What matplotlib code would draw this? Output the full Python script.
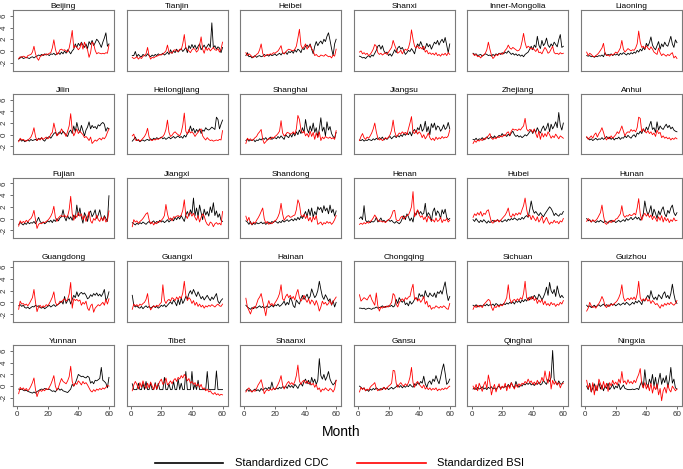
import numpy as np
import matplotlib
matplotlib.use("Agg")
import matplotlib.pyplot as plt
from matplotlib.lines import Line2D

plt.rcParams['font.family'] = ['Liberation Sans', 'DejaVu Sans']

months = np.arange(1, 61)

# standardized monthly series (CDC = black, BSI = red)
beijing_cdc = [-1.4,-1.2,-1.0,-1.3,-1.2,-1.1,-1.2,-1.3,-1.1,-1.0, -1.2,-1.0,-0.9,-0.7,-0.8,-0.6,-0.8,-0.5,-0.7,-0.6,
               -0.8,-0.5,-0.6,-0.4,-0.7,-0.5,-0.3,-0.6,-0.2,-0.5, 0.0,-0.4,0.2,-0.1,-0.5,0.0,0.3,1.2,0.6,1.3,
               0.9,1.5,1.0,0.6,1.2,0.4,1.6,1.1,1.8,0.9, 1.4,2.0,1.7,1.2,0.6,1.5,2.2,3.1,0.8,1.2]
beijing_bsi = [-1.3,-1.0,-1.1,-0.9,-1.0,-1.2,-0.8,-0.7,-0.6,-0.2, 0.8,-0.5,-1.2,-1.6,-1.0,-0.8,-0.6,-0.7,-0.5,-0.6,
               -0.4,-0.3,0.5,1.9,0.3,-0.6,-0.4,0.2,0.3,0.1, 0.2,0.0,-0.2,0.5,1.8,3.5,0.5,0.9,0.6,0.2,
               0.5,1.4,0.3,1.5,0.7,0.2,-1.1,-0.3,1.5,1.2, 0.1,-0.5,-0.3,-0.4,-0.5,-0.4,-0.5,-0.3,-0.4,1.0]

tianjin_cdc = [-0.8,-0.8,-0.1,-1.0,-0.6,-0.9,-1.0,-0.6,-0.8,-0.9, -0.5,-0.8,-1.0,-0.7,-0.9,-0.6,-0.8,-0.5,-0.7,-0.6,
               -0.4,-0.7,-0.5,-0.2,-0.6,0.2,-0.4,0.0,-0.3,0.3, -0.2,0.1,0.4,-0.1,0.2,0.6,-0.3,0.9,0.4,1.1,
               0.5,1.0,0.3,0.8,1.2,0.2,0.6,1.0,0.4,0.8, 1.2,0.6,4.8,0.5,0.9,0.3,0.7,0.5,-0.3,0.6]
tianjin_bsi = [-1.1,-1.3,-1.2,-1.0,-1.4,-1.1,-1.3,-0.9,-0.8,-0.5, 0.6,-0.8,-1.4,-1.1,-1.2,-1.0,-0.9,-0.8,-0.6,-0.7,
               -0.5,-0.3,0.0,1.0,-0.2,-0.3,-0.4,0.1,0.2,0.0, -0.1,0.3,0.2,1.2,2.8,0.5,0.2,0.0,-0.3,0.2,
               0.4,0.3,-0.2,0.1,1.0,2.4,0.3,-0.4,0.6,0.1, 0.5,0.0,0.3,0.6,0.2,0.1,0.4,-0.2,0.3,1.5]

heibei_cdc = [-0.8,-0.3,-1.0,-0.9,-1.2,-1.0,-0.8,-1.1,-0.9,-0.8, -1.0,-0.9,-0.6,-0.8,-0.7,-0.9,-0.6,-0.8,-0.7,-0.5,
              -0.8,-0.6,-0.4,-0.7,-0.3,-0.5,-0.2,-0.6,-0.1,-0.3, 0.0,-0.4,0.2,-0.2,0.3,0.1,-0.3,0.5,0.2,0.8,
              1.0,0.6,1.2,0.3,-0.5,0.8,1.6,0.9,1.4,1.7, 1.2,2.0,1.6,2.5,3.1,1.8,0.4,-0.8,1.2,2.0]
heibei_bsi = [-0.3,-0.8,-0.5,-0.7,-1.0,-1.1,-0.9,-0.6,-0.4,0.2, 1.2,-0.4,-1.0,-0.8,-0.6,-0.7,-0.5,-0.6,-0.3,-0.4,
              -0.2,0.0,0.4,0.9,-0.3,-0.5,-0.2,0.1,0.3,0.2, 0.1,0.0,0.3,0.8,2.2,3.7,1.0,0.4,0.7,1.2,
              0.3,0.8,1.0,0.4,0.0,-0.8,-0.6,-0.9,-1.0,-0.7, -0.8,-0.9,-0.6,-0.8,-1.0,-0.9,-1.2,-0.7,-0.9,0.3]

shanxi_cdc = [-0.9,-1.0,-1.2,-1.1,-1.3,-1.0,-0.8,-1.1,-0.7,-0.9, -0.4,0.1,0.8,1.0,0.3,0.9,0.0,-0.4,-0.2,-0.8,
              -0.5,-0.9,-0.4,0.2,-0.3,0.5,0.8,0.3,0.6,0.0, -0.6,-0.3,0.1,-0.1,0.4,0.0,-0.5,0.6,1.2,0.8,
              1.6,0.9,0.2,0.5,1.3,0.7,1.1,0.3,0.9,1.5, 1.2,1.8,1.0,1.6,2.0,1.4,2.3,1.0,-0.3,1.2]
shanxi_bsi = [-0.2,0.0,-0.5,-0.3,-0.6,-0.4,-0.8,-0.6,-0.2,0.3, 1.1,0.8,-0.3,-0.6,-0.4,-0.7,-0.5,-0.3,-0.6,-0.2,
              0.2,0.6,1.8,1.0,0.3,-0.4,-0.2,0.1,-0.5,0.0, 0.3,0.1,0.5,1.5,3.6,2.0,0.8,0.5,0.9,0.4,
              0.6,0.3,0.8,-0.2,0.1,-0.5,-0.3,-0.6,-0.4,-0.7, -0.3,-0.8,-0.6,-0.9,-0.5,-0.7,-0.4,-0.8,-0.3,-0.6]

inner_mongolia_cdc = [-0.4,-0.6,-0.5,-0.8,-0.7,-0.6,-0.9,-0.7,-0.5,-0.6, -0.8,-0.7,-0.9,-0.6,-0.8,-0.5,-0.7,-0.4,-0.6,-0.3,
                      -0.5,-0.2,-0.4,0.0,-0.3,-0.6,-0.4,-0.7,-0.5,-0.8, -0.6,-0.9,-0.7,-1.0,-0.6,-0.4,-0.2,0.3,0.8,0.2,
                      1.0,0.6,2.5,1.0,0.4,1.8,0.9,1.3,2.2,1.0, 0.6,1.2,0.8,1.5,1.1,0.7,1.9,2.8,0.6,0.8]
inner_mongolia_bsi = [-0.5,-0.8,-0.6,-1.0,-0.9,-1.2,-0.8,-0.7,-0.4,0.2, 1.5,0.3,-0.7,-1.3,-1.0,-0.6,-0.8,-0.5,-0.4,-0.6,
                      -0.3,0.1,0.4,1.0,0.5,0.3,0.6,0.4,0.2,0.0, 0.1,0.5,1.6,3.0,1.4,0.5,0.8,0.6,0.3,0.5,
                      0.2,-0.1,0.4,-0.3,-0.2,-0.5,0.1,0.6,0.2,-0.4, -0.2,0.3,0.8,-0.3,-0.5,-0.4,-0.6,-0.3,-0.5,-0.4]

liaoning_cdc = [-0.8,-0.9,-0.8,-1.0,-0.9,-1.1,-0.9,-1.0,-0.8,-0.9, -0.7,-1.0,-0.3,-0.8,-0.6,-0.7,-0.5,-0.8,-0.6,-0.7,
                -0.5,-0.8,-0.4,-0.6,-0.3,-0.5,-0.7,-0.4,-0.6,-0.3, -0.5,-0.2,-0.4,0.1,-0.2,0.3,0.0,0.6,0.2,1.3,
                0.8,1.4,2.4,1.0,0.5,0.2,0.9,1.6,0.3,1.2, 0.7,1.5,1.0,0.8,1.6,2.5,1.2,0.6,1.9,1.4]
liaoning_bsi = [-0.2,-0.8,-0.4,-0.6,-0.9,-1.0,-0.8,-0.6,-0.3,0.1, 0.5,1.3,-0.4,-0.8,-0.7,-0.9,-0.6,-0.7,-0.5,-0.2,
                -0.4,0.0,0.5,1.8,0.3,-0.2,0.1,0.4,0.2,0.0, 0.2,0.1,0.5,1.2,3.4,1.5,0.6,0.8,0.4,0.9,
                0.5,0.2,0.7,0.3,-0.2,-0.4,-0.6,0.5,-0.3,-0.8, -0.5,-0.7,-0.9,-0.6,-0.8,-0.5,-0.3,-1.2,-0.9,-1.3]

jilin_cdc = [-1.0,-0.8,-1.1,-0.9,-1.2,-1.0,-0.9,-1.1,-0.8,-1.0, -0.9,-0.8,-1.0,-0.6,-0.8,-0.5,-0.9,-1.1,-0.7,-0.5,
             -0.3,-0.6,-0.2,0.2,0.4,-0.1,0.3,0.5,0.1,0.6, 0.3,0.0,-0.3,0.5,0.8,0.2,1.5,0.5,2.1,1.0,
             0.4,1.6,0.7,-0.2,0.8,1.3,2.2,1.0,1.6,1.2, 1.4,1.0,1.7,1.5,1.9,2.1,1.8,0.6,1.2,1.0]
jilin_bsi = [-1.2,-0.6,-0.9,-0.8,-1.0,-1.1,-0.9,-0.7,-0.4,0.2, 1.2,-0.3,-1.0,-0.7,-0.9,-0.5,-0.8,-0.6,-0.4,-0.7,
             -0.5,0.1,0.4,2.0,0.8,-0.2,0.1,0.3,1.0,0.5, 0.2,-0.3,0.6,1.5,3.6,0.8,-0.2,0.4,1.0,0.2,
             0.6,0.3,0.0,-0.5,-0.3,-0.6,-1.0,-0.4,-1.5,-1.2, -0.9,-1.1,-0.8,-0.6,-0.9,-0.5,-0.7,-0.3,0.4,1.0]

heilongjiang_cdc = [-1.1,-0.8,-0.4,-1.0,-0.9,-1.2,-1.0,-0.9,-1.1,-0.9, -0.8,-1.0,-0.7,-0.9,-0.6,-0.8,-0.5,-0.7,-0.6,-0.4,
                    -0.7,-0.5,-0.8,-0.6,-0.4,-0.7,-0.5,-0.3,-0.6,-0.4, -0.2,-0.5,-0.3,-0.6,-0.1,-0.4,0.2,0.5,1.5,0.6,
                    1.1,0.3,0.9,0.5,1.0,0.2,0.8,0.6,1.2,0.9, 0.8,1.0,1.3,1.1,0.9,3.0,2.6,1.0,1.8,2.5]
heilongjiang_bsi = [-0.2,0.1,-0.9,-1.0,-0.8,-1.1,-0.9,-0.6,-0.3,0.2, 1.1,-0.4,-0.9,-1.0,-0.8,-0.9,-0.7,-0.8,-0.6,-0.5,
                    -0.3,0.1,0.9,2.5,0.4,-0.3,-0.1,0.3,0.5,0.2, 0.0,-0.2,0.4,1.6,3.7,0.6,0.1,0.9,0.3,0.5,
                    0.2,-0.3,0.1,0.4,0.8,1.0,-0.2,-0.6,-0.9,-0.5, -0.8,-1.0,-0.9,-1.1,-1.0,-0.9,-1.0,-0.8,-0.9,0.7]

shanghai_cdc = [-1.0,-0.8,-1.1,-0.9,-1.0,-0.8,-1.2,-0.9,-1.0,-0.7, -0.9,-0.6,-0.8,-0.5,-0.9,-0.7,-0.4,-0.8,-0.6,-0.5,
                -0.7,-0.3,-0.6,-0.2,-0.5,-0.8,0.0,-0.3,-0.5,0.1, -0.4,0.3,-0.2,0.5,0.0,0.8,0.2,1.2,0.4,2.6,
                1.0,0.3,1.5,0.6,2.0,0.4,1.2,-0.4,1.0,2.9, 0.6,1.3,-0.2,2.2,0.8,1.4,0.2,-0.3,-0.6,0.4]
shanghai_bsi = [-1.5,-0.6,-0.9,-0.7,-1.0,-0.8,-0.5,-0.3,0.2,0.5, 0.9,-0.8,-1.5,-1.2,-0.9,-0.6,-0.8,-0.4,-0.6,-0.3,
                -0.1,0.2,0.6,2.4,0.3,-0.2,0.0,0.4,0.3,0.1, 0.2,0.5,0.1,1.0,3.3,2.6,0.8,0.3,0.6,-0.2,
                0.2,-0.4,0.6,-0.3,0.4,-0.8,0.3,-0.5,0.5,-1.0, -0.4,-0.7,-0.3,-0.5,-0.6,-0.4,-0.7,-0.5,-0.8,0.7]

jiangsu_cdc = [-0.9,-1.0,-0.8,-1.1,-0.9,-1.0,-0.8,-0.9,-1.0,-0.7, -0.9,-0.6,-0.8,-0.5,-0.7,-0.4,-0.9,-0.6,-0.8,-0.5,
               -0.3,-0.7,-0.4,-0.2,-0.5,-0.1,-0.4,0.0,-0.3,0.2, -0.1,0.3,0.0,0.5,-0.2,0.6,0.9,0.3,1.2,0.8,
               1.8,0.6,1.0,2.3,0.5,1.4,0.0,1.9,1.2,2.0, 0.8,1.5,1.3,0.6,1.0,1.7,0.9,1.2,2.1,1.0]
jiangsu_bsi = [-1.0,-0.3,0.2,-0.5,-0.8,-0.4,-0.6,-0.2,0.3,1.0, 2.0,0.5,-0.6,-0.9,-0.7,-1.0,-0.8,-0.5,-0.7,-0.4,
               0.0,0.8,2.5,0.6,-0.3,-0.1,0.3,0.1,0.5,0.2, 0.4,0.0,1.0,2.0,3.1,0.4,0.2,0.8,0.1,0.5,
               0.2,-0.5,0.0,-0.7,-0.3,0.3,-0.5,-0.9,-0.6,-1.0, -0.4,-0.8,-0.5,-0.7,-0.3,-0.6,-0.4,-0.5,-0.2,0.8]

zhejiang_cdc = [-0.8,-0.9,-0.6,-1.0,-0.7,-0.8,-0.5,-0.9,-0.6,-0.4, -0.7,-0.5,-0.3,-0.6,-0.2,-0.5,-0.4,-0.1,-0.3,0.2,
                -0.2,0.0,-0.3,0.1,-0.2,0.3,0.6,0.0,-0.3,-0.1, -0.4,-0.2,-0.5,-0.3,0.0,-0.2,0.1,0.5,0.8,0.2,
                0.9,0.4,1.2,0.6,0.3,1.0,1.5,0.7,1.2,2.0, 0.5,1.8,1.0,1.5,2.2,1.2,3.8,1.6,0.8,2.0]
zhejiang_bsi = [-1.5,-1.0,-1.3,-0.9,-1.1,-0.8,-1.0,-0.6,-0.8,-0.4, -0.2,0.2,-0.6,-0.8,-0.5,-0.7,-0.3,-0.5,-0.2,-0.4,
                0.0,-0.2,0.3,0.5,-0.1,0.6,1.0,0.8,0.9,0.7, 1.0,0.8,1.2,1.5,2.8,1.0,0.6,0.9,0.8,0.4,
                1.0,0.2,-0.5,0.6,-0.8,0.3,-0.4,0.2,-0.3,0.5, 0.0,-0.6,-0.2,-0.5,0.1,-0.3,-0.7,-0.2,-0.4,-0.6]

anhui_cdc = [-0.5,-0.6,-0.9,-0.7,-1.0,-0.8,-0.6,-0.9,-0.7,-0.8, -0.5,-0.8,-0.6,-0.3,-0.7,-0.4,-0.8,-0.5,-0.9,-0.6,
             -0.7,-0.4,-0.8,-0.5,-0.6,-0.2,-0.5,-0.1,-0.4,-0.6, -0.2,0.0,-0.4,0.3,0.1,0.6,0.2,1.0,0.5,1.3,
             0.8,1.6,2.3,0.9,1.2,0.4,2.2,0.8,1.5,1.1, 0.9,1.4,1.8,1.2,1.6,1.0,1.3,0.8,0.6,0.5]
anhui_bsi = [-0.3,-0.8,-0.5,-0.2,-0.6,0.0,0.3,-0.4,0.2,0.6, 1.2,0.4,-0.5,-0.9,-0.4,-0.7,-0.2,-0.6,-0.3,0.0,
             0.5,0.2,0.8,1.5,0.6,-0.2,0.3,0.5,0.4,0.9, 0.6,0.8,0.5,1.2,3.0,2.8,0.5,1.0,0.6,0.3,
             0.7,0.2,0.5,0.0,0.3,-0.3,0.8,0.2,0.4,-0.5, -0.2,-0.6,-0.4,-0.7,-0.5,-0.9,-0.6,-0.8,-0.5,-0.7]

fujian_cdc = [-1.0,-0.7,-0.9,-1.1,-0.8,-1.0,-0.6,-0.9,-0.7,-0.8, -0.5,-0.9,-0.4,0.2,-0.5,-0.8,-0.6,-0.9,-0.7,-0.4,
              -0.6,-0.3,-0.7,-0.2,-0.5,0.0,-0.4,0.1,0.3,1.5, 0.2,-0.4,0.5,-0.1,0.3,-0.3,0.6,0.0,2.3,0.5,
              1.8,0.2,-0.8,1.0,0.4,-0.5,0.9,1.3,0.3,0.8, 1.5,0.0,0.6,1.5,0.2,-0.3,0.5,0.0,-0.5,3.9]
fujian_bsi = [-1.3,-0.4,-0.8,-0.5,-0.7,-0.3,-0.6,-0.2,0.0,0.5, 1.4,-0.2,-1.7,-1.0,-0.8,-0.9,-0.6,-0.7,-0.5,-0.3,
              0.0,0.4,1.0,2.1,0.2,-0.5,0.1,0.4,0.5,0.3, 0.6,0.2,0.4,1.5,3.8,0.8,-0.3,0.6,0.2,1.0,
              0.4,0.8,-0.2,0.5,-0.5,0.3,1.2,-0.4,-0.8,0.0, -0.3,0.6,-0.2,-0.5,0.2,-0.4,0.3,-0.6,-0.3,1.3]

jiangxi_cdc = [-0.7,-0.9,-1.1,-0.8,-1.0,-0.7,-0.9,-0.6,-0.8,-1.0, -0.7,-0.5,-0.9,-0.6,-0.4,-0.8,-0.5,-0.7,-0.3,-0.6,
               -0.4,-0.7,-0.5,-0.2,-0.6,-0.3,0.0,-0.4,0.2,-0.2, 0.3,-0.1,0.5,0.0,-0.5,0.6,1.2,0.4,1.5,0.8,
               3.5,0.5,1.8,0.3,2.3,1.0,-0.2,1.6,0.6,1.2, 0.4,2.0,1.0,2.7,0.5,1.3,0.2,0.8,-0.3,-0.5]
jiangxi_bsi = [-1.4,-0.2,-0.6,-0.4,-0.8,-0.5,-0.3,0.0,0.4,0.8, 1.0,-0.2,-0.9,-0.6,-1.1,-0.7,-0.9,-0.5,-0.6,-0.3,
               0.0,0.5,2.4,0.8,-0.2,0.1,-0.4,0.3,0.2,0.4, 0.5,0.3,0.6,1.4,3.2,0.5,0.0,0.8,1.0,0.4,
               0.9,0.2,-0.3,0.5,-0.6,0.2,0.8,0.4,-0.5,-1.0, -1.2,-0.6,-0.8,-1.4,-0.9,-0.7,-1.0,-0.8,-1.1,1.2]

shandong_cdc = [-0.4,-0.6,-1.0,-0.5,-1.1,-0.8,-1.0,-0.7,-0.9,-0.8, -0.6,-0.9,-0.7,-1.0,-0.8,-0.6,-0.9,-0.5,-0.7,-0.4,
                -0.6,-0.8,-0.5,-0.7,-0.3,-0.6,-0.4,-0.2,-0.5,-0.3, -0.1,-0.4,0.0,-0.3,0.2,-0.2,0.4,0.0,0.6,1.2,
                0.3,1.6,0.5,1.8,0.2,1.2,0.6,2.0,1.5,1.9, 1.0,2.2,1.3,1.8,0.8,2.3,1.0,1.6,0.4,1.3]
shandong_bsi = [0.4,-0.4,0.2,-0.8,-1.0,-0.6,-0.8,-0.3,0.1,0.6, 1.2,1.8,0.0,-0.8,-0.5,-1.0,-0.7,-0.9,-0.6,-0.4,
                -0.2,0.3,1.0,2.6,0.8,-0.3,0.1,0.4,0.5,0.2, 0.3,0.5,0.6,1.5,3.2,2.5,0.6,0.3,0.7,0.0,
                0.5,-0.4,0.2,-0.6,0.3,-0.2,0.5,-1.0,-0.8,-0.6, -1.1,-0.7,-0.9,-0.5,-0.8,-0.6,-1.0,-0.7,-0.2,0.5]

henan_cdc = [0.0,0.3,-0.2,2.2,-0.3,-0.6,-0.4,-0.7,-0.5,-0.6, -0.4,0.2,-0.6,-0.3,0.1,-0.5,-0.3,-0.6,-0.4,-0.2,
             -0.5,-0.3,-0.6,-0.8,-0.5,-0.7,-0.9,-0.6,0.0,0.5, -0.2,0.8,0.3,-0.4,0.1,-0.6,1.0,0.6,1.4,0.8,
             1.2,0.7,0.9,2.6,0.3,1.0,0.6,-0.5,1.2,1.8, 0.5,1.3,0.9,0.0,1.5,0.8,1.6,0.2,-0.2,0.0]
henan_bsi = [-1.0,-0.8,-1.0,-0.7,-0.9,-0.6,-0.8,-0.5,-0.3,0.1, 0.6,0.2,-0.3,-0.5,-0.4,-0.6,-0.5,-0.7,-0.4,-0.2,
             0.0,0.5,1.3,1.4,-0.2,-0.4,-0.3,0.2,0.4,-0.1, 0.3,0.5,0.6,1.2,2.0,4.6,0.3,0.9,1.5,0.7,
             0.2,0.5,-0.2,0.3,-0.6,0.4,0.0,-0.4,-0.2,-0.6, 0.1,-0.5,-0.3,0.2,-0.7,-0.2,-0.4,0.0,-0.6,-0.3]

hubei_cdc = [-0.2,-0.5,0.0,-0.4,-0.7,-0.3,-0.6,-0.2,-0.5,-0.8, -0.4,-0.7,-0.5,-0.3,-0.6,-0.4,-0.2,-0.5,-0.3,-0.6,
             -0.4,-0.2,-0.5,-0.1,-0.3,0.0,-0.2,0.1,-0.1,-0.3, 0.0,-0.2,0.2,-0.1,0.3,0.5,0.2,1.5,3.0,1.6,
             0.9,1.2,0.8,0.5,1.0,0.6,0.3,0.8,1.2,1.6, 2.0,1.7,1.2,0.5,0.9,0.6,0.4,0.8,0.7,1.2]
hubei_bsi = [0.2,0.8,0.5,1.0,0.6,1.2,0.4,0.9,0.7,1.3, 1.5,0.4,-0.6,-0.8,-0.3,-0.5,-0.2,-0.6,-0.3,0.0,
             0.3,0.6,1.1,1.8,0.5,0.2,0.8,0.4,0.9,0.6, 1.0,0.7,1.5,2.2,3.5,1.6,0.3,0.6,-0.2,0.5,
             0.0,-0.4,0.3,-0.6,-0.2,0.4,-0.8,-0.3,0.2,-0.5, -1.0,-0.6,-0.8,-0.3,-0.7,-0.5,-0.9,-0.4,-0.6,0.0]

hunan_cdc = [0.0,-0.4,-0.2,-0.6,-0.3,-0.5,-0.7,-0.4,-0.6,-0.3, -0.5,-0.7,-0.4,-0.6,-0.8,-0.5,-0.3,-0.6,-0.4,-0.7,
             -0.5,-0.3,-0.6,-0.4,-0.2,-0.5,0.0,-0.3,-0.1,0.2, -0.2,0.0,0.3,-0.1,0.2,-0.3,0.1,0.8,3.0,1.5,
             0.6,1.2,2.2,0.4,1.6,0.9,0.0,1.3,0.6,1.5, 2.0,0.8,0.3,1.4,0.9,1.8,2.3,1.0,0.5,1.0]
hunan_bsi = [-0.5,0.0,-0.3,-0.6,-0.2,-0.5,-0.3,0.0,0.5,1.0, 2.3,0.5,-0.8,-1.0,-0.6,-0.4,-0.7,-0.3,-0.5,-0.1,
             0.0,0.4,0.8,2.2,0.6,0.2,0.5,0.4,0.7,0.5, 0.6,0.9,0.6,1.8,3.4,0.8,-0.3,0.5,0.9,0.4,
             0.8,0.2,0.6,-0.2,0.4,0.0,-0.5,0.3,-0.3,0.5, -0.6,0.2,-0.4,0.0,-0.7,-0.2,-0.5,0.1,-0.4,-0.3]

guangdong_cdc = [-0.6,-0.4,-0.7,-0.5,-0.9,-1.0,-0.8,-1.1,-0.9,-0.7, -0.8,-0.5,-0.7,-0.6,-0.9,-1.0,-0.8,-1.1,-0.9,-0.7,
                 -0.5,-0.8,-0.6,-0.4,-0.7,-0.5,-0.3,-0.1,0.2,-0.3, 1.0,-0.2,0.3,0.6,-0.3,0.5,1.2,0.8,1.8,1.0,
                 1.5,1.7,1.4,1.6,1.2,0.6,0.8,1.3,1.0,1.5, 1.2,1.6,1.1,1.4,1.0,1.5,2.2,0.3,0.8,1.8]
guangdong_bsi = [-1.2,0.2,-0.3,-0.2,-0.5,-0.3,-0.6,-0.2,0.3,0.8, 2.2,0.0,-1.6,-0.8,-0.5,-0.9,-0.6,-0.8,-0.4,-0.6,
                 -0.2,0.3,0.9,1.8,0.0,-0.5,-0.3,0.2,0.0,0.4, 0.6,0.2,0.5,1.4,3.4,-1.0,0.6,0.3,0.5,0.2,
                 0.4,-0.5,0.0,-0.3,0.2,-1.0,-1.4,-0.6,-0.3,-1.7, -1.0,-0.7,-0.4,-0.6,-0.3,0.0,-0.5,0.5,-0.3,0.6]

guangxi_cdc = [1.2,-0.5,-0.8,-0.6,-0.9,-1.0,-0.7,-1.1,-0.8,-0.6, -0.9,-0.7,-1.0,-0.8,-0.6,-0.9,-0.7,-1.0,-0.8,-0.5,
               -0.7,-0.4,-0.8,-0.5,-0.2,0.1,-0.3,0.4,0.0,-0.6, 0.5,-0.4,0.8,-0.2,0.3,1.0,0.6,1.5,2.0,1.4,
               2.2,1.6,1.0,1.8,1.2,0.6,1.0,0.4,0.8,1.2, 0.7,0.3,0.9,0.5,1.0,1.5,0.2,-0.2,0.3,0.6]
guangxi_bsi = [-1.2,-0.3,-0.6,-0.4,-0.7,-0.3,-0.5,-0.2,0.0,0.5, 1.5,-0.5,-1.3,-0.9,-0.6,-0.8,-0.5,-0.7,-0.3,0.0,
               3.0,0.4,-0.2,0.3,0.5,0.2,0.8,0.6,0.3,0.9, 0.5,1.0,0.7,1.6,3.6,1.2,0.3,0.8,0.5,-0.2,
               0.3,-0.5,0.0,-0.7,-0.3,-0.8,-0.5,-1.0,-0.6,-0.8, -0.5,-0.7,-0.4,-0.6,-0.8,-0.5,-0.3,-0.6,-0.7,-0.3]

hainan_cdc = [-0.5,-0.8,-1.0,-1.2,-0.9,-1.1,-0.7,-1.0,-0.8,-0.6, -0.9,-0.7,-1.0,-0.8,-0.6,-0.9,-0.7,-0.5,-0.8,-0.4,
              -0.6,-0.3,-0.7,-0.5,-0.2,0.2,-0.5,0.0,-0.4,0.8, 0.3,-0.6,-0.9,0.4,0.0,-0.3,0.6,1.2,0.5,0.9,
              1.4,0.6,1.0,2.3,1.5,0.8,1.2,2.0,3.6,2.2, 1.0,0.5,1.3,0.8,0.2,0.6,-0.5,0.3,-0.8,0.0]
hainan_bsi = [0.7,-0.8,-1.4,-2.0,-1.2,-0.8,-1.0,-0.3,0.5,0.9, 1.5,0.2,-1.0,-2.3,-0.6,0.3,-0.5,-0.2,-0.6,-0.1,
              0.3,0.8,1.5,3.0,0.6,0.3,1.0,1.4,0.8,1.2, 0.6,1.0,0.4,1.5,2.2,0.8,0.2,0.6,1.2,0.5,
              0.0,0.6,-0.3,0.4,0.1,-0.5,0.3,-0.4,-1.5,-0.8, 0.2,-0.3,0.0,-0.5,-0.2,0.3,-0.4,0.1,0.5,0.9]

chongqing_cdc = [-1.0,-1.0,-1.1,-1.0,-1.2,-1.1,-1.0,-1.1,-1.2,-1.0, -1.0,-0.8,-1.0,-0.9,-0.8,-0.6,-0.9,-0.7,-0.8,-0.6,
                 -0.7,-0.5,-0.8,-0.6,0.5,-0.2,0.8,0.3,0.0,0.4, -0.4,-0.1,-0.6,0.2,-0.3,0.0,0.5,0.8,0.4,1.5,
                 1.0,1.3,0.7,2.0,1.2,0.9,1.6,1.2,1.0,1.6, 0.8,1.8,1.5,2.0,1.4,2.5,3.5,1.6,0.3,1.0]
chongqing_bsi = [1.3,0.2,0.5,0.8,0.6,0.4,0.9,1.3,0.5,0.0, -0.5,1.6,-0.6,-1.5,-0.8,-1.0,-0.7,-0.9,-0.6,-0.8,
                 -0.4,0.0,1.5,1.2,-0.3,-0.8,0.0,0.3,0.6,0.2, 0.8,0.5,0.9,1.0,2.2,3.1,0.5,0.8,0.2,0.6,
                 0.0,0.4,1.0,-0.3,0.2,-0.8,-0.5,-1.2,-0.9,-1.0, -0.6,-0.8,-1.0,-0.7,-0.9,-0.6,-0.8,-1.1,-1.2,-0.2]

sichuan_cdc = [-0.5,-0.7,-0.4,-0.8,-0.6,-0.5,-0.7,-0.4,-0.6,-0.3, -0.6,-0.4,-0.5,-0.3,-0.6,-0.2,-0.4,-0.6,-0.3,-0.5,
               -0.2,-0.4,-0.1,-0.3,0.0,-0.2,0.1,-0.3,0.2,0.0, 0.3,-0.1,0.4,0.1,0.5,0.2,0.8,0.4,1.0,0.6,
               1.2,0.8,0.5,1.4,1.0,0.4,0.9,1.6,2.6,1.2, 3.4,2.0,1.5,2.2,1.0,2.8,1.6,0.8,1.2,0.8]
sichuan_bsi = [-1.2,-0.6,-0.9,-0.5,-0.8,-0.6,-0.9,-0.4,-0.1,0.2, 0.5,0.3,-0.8,-1.4,-0.7,-0.9,-0.5,-0.8,-0.4,-0.6,
               -0.3,0.2,0.8,3.0,0.6,-0.1,0.3,0.5,0.2,0.6, 0.3,0.8,0.5,1.5,3.6,0.8,0.3,0.9,0.5,1.0,
               0.3,0.7,-0.2,0.4,0.0,0.5,-0.4,0.2,-0.5,-0.2, -0.6,0.0,-0.4,-0.2,-0.7,-0.3,-0.5,0.0,-0.3,0.3]

guizhou_cdc = [-0.5,-0.8,-0.6,-0.9,-0.7,-0.5,-0.8,-0.6,-0.4,-0.7, -0.5,-0.3,-0.6,-0.4,-0.7,-0.5,-0.2,-0.5,-0.3,-0.6,
               -0.4,-0.2,-0.5,-0.3,-0.1,-0.4,0.0,-0.2,-0.5,-0.3, 0.0,-0.3,0.2,-0.1,0.3,0.0,-0.4,0.5,0.2,0.8,
               1.2,0.6,2.0,1.0,0.5,0.9,0.4,1.3,1.0,0.6, 1.4,1.8,0.8,1.2,0.6,1.5,3.1,1.4,0.2,-0.2]
guizhou_bsi = [-1.5,-1.0,0.0,-0.6,-0.9,-0.7,-1.0,-0.5,-0.2,0.3, 1.0,0.4,-0.6,-0.9,-0.4,-0.7,-0.3,-0.5,-0.2,0.0,
               0.3,0.8,1.5,3.0,0.9,0.2,0.5,0.7,0.4,0.8, 0.5,0.9,0.4,1.4,3.6,0.8,0.2,0.6,0.3,0.7,
               0.2,0.5,-0.2,0.3,0.0,-0.4,-0.2,-0.6,-1.0,-0.4, -0.7,-0.2,-0.5,-0.1,-0.4,0.0,-0.3,-0.5,-0.2,0.3]

yunnan_cdc = [-0.5,-0.6,-0.5,-0.7,-0.8,-0.7,-0.9,-1.0,-1.1,-1.2, -1.0,-1.2,-0.9,-0.8,-0.6,-0.5,-0.6,-0.4,-0.5,-0.6,
              -0.5,-0.7,-0.9,-0.8,-1.0,-0.6,-0.4,-0.7,-0.5,-0.8, -0.9,-1.0,-1.1,-0.8,-0.5,0.3,0.0,0.5,1.2,2.0,
              1.8,1.6,1.7,1.5,1.4,1.7,1.5,0.5,0.8,0.4, 1.0,0.9,1.1,1.3,3.2,1.0,0.8,0.5,-0.3,1.5]
yunnan_bsi = [-1.3,-0.2,-0.6,-0.3,-0.7,-0.4,-0.8,-0.5,0.0,0.6, 1.4,-0.6,-1.8,-1.0,-0.7,-0.9,-0.6,-0.8,-0.4,-0.6,
              -0.2,0.3,1.0,1.8,0.0,-0.7,-0.2,0.6,1.3,0.8, 0.6,0.4,0.9,1.6,3.4,0.8,0.0,0.5,0.3,0.9,
              0.6,0.2,0.8,0.4,0.6,0.2,-0.3,-0.8,-1.0,-0.6, -0.9,-0.5,-0.7,-0.4,-0.6,-0.3,-0.5,-0.2,0.1,0.0]

tibet_cdc = [0.4,-0.6,-0.6,-0.6,0.5,-0.6,-0.6,0.5,-0.6,0.8, -0.6,-0.6,0.5,-0.6,-0.6,0.6,-0.6,0.5,-0.6,-0.6,
             -0.6,1.5,-0.6,-0.6,0.4,-0.6,-0.6,0.8,-0.6,-0.6, 1.2,-0.6,0.5,-0.6,-0.6,2.5,-0.6,-0.6,-0.6,2.5,
             -0.6,0.3,-0.6,1.0,-0.6,-0.6,-0.6,-0.6,-0.6,2.5, -0.6,-0.6,-0.6,-0.6,-0.6,2.6,-0.6,-0.6,-0.6,-0.6]
tibet_bsi = [-0.8,0.2,0.8,0.3,-0.5,0.6,-0.2,0.9,0.1,-0.4, 0.5,-0.3,0.7,0.0,-0.6,0.4,-0.5,0.2,0.8,1.2,
             0.3,0.6,1.4,0.2,0.5,0.9,0.4,1.0,1.3,0.8, 1.5,1.2,1.8,1.4,2.0,1.6,0.9,1.3,0.5,0.8,
             0.3,0.6,0.0,0.4,-0.2,0.3,-0.5,-0.3,-0.8,-0.5, -1.0,-0.8,-1.2,-1.4,-1.1,-1.5,-1.3,-1.6,-1.4,-1.5]

shaanxi_cdc = [-0.8,-0.5,-0.9,-0.6,-1.0,-0.7,-0.5,-0.8,-0.6,-0.9, -0.4,-0.7,-0.5,-0.3,-0.6,-0.2,-0.5,0.7,-0.4,-0.6,
               -0.3,-0.5,-0.2,-0.4,-0.1,-0.3,0.0,-0.4,0.2,-0.2, 0.1,-0.3,0.3,0.0,-0.4,0.2,0.5,0.0,0.8,1.2,
               0.4,1.0,0.2,1.5,0.6,1.2,0.3,1.0,4.7,1.8, 1.2,2.0,1.0,1.6,2.5,1.2,0.6,0.2,0.5,1.0]
shaanxi_bsi = [-1.0,-0.6,-0.3,-0.8,-1.0,-0.7,-0.9,-0.4,0.2,0.6, 1.1,0.0,-1.3,-0.8,-0.6,-0.8,-0.5,-0.7,-0.3,-0.6,
               -0.2,0.3,0.9,1.8,0.2,-0.5,0.0,0.5,0.8,0.3, 0.6,0.2,0.8,1.8,3.6,0.9,0.3,0.8,1.0,0.5,
               0.9,0.4,0.6,0.2,0.5,-0.2,0.3,-0.6,-0.3,-1.0, -0.5,-0.7,-0.3,-0.6,-0.8,-0.4,-0.6,-1.0,-0.5,1.0]

gansu_cdc = [0.0,-0.2,-0.5,-0.3,-0.8,-0.6,-0.9,-0.5,-0.7,-0.4, -0.6,-0.3,-0.5,-0.7,-0.4,-0.6,-0.2,-0.5,-0.3,-0.6,
             -0.4,-0.2,-0.5,-0.3,-0.1,0.2,-0.2,0.1,-0.3,0.0, -0.2,0.1,-0.1,0.3,0.0,-0.2,0.4,0.1,0.6,0.3,
             0.8,0.5,1.7,0.4,-0.2,0.6,0.9,0.3,1.2,0.8, 1.8,1.0,0.4,1.5,2.8,3.8,2.2,0.3,0.6,1.2]
gansu_bsi = [-1.0,-0.2,-0.6,-0.3,-0.8,-0.5,-0.7,-0.2,0.1,0.3, 0.6,-0.4,-0.8,-0.5,-0.7,-0.4,-0.2,-0.6,-0.3,0.0,
             0.2,0.5,2.7,2.6,0.5,-0.2,0.3,0.6,0.2,0.0, 0.4,0.1,0.6,1.5,3.2,0.6,-0.2,0.5,0.8,0.3,
             0.0,-0.3,0.2,-0.5,-0.2,-0.6,-0.3,-0.7,-0.4,-0.6, -0.3,-0.8,-0.5,-0.7,-0.4,-0.6,-0.3,-0.5,-0.2,0.0]

qinghai_cdc = [-0.5,-0.3,-0.6,-0.2,-0.5,-0.4,-0.1,-0.5,-0.3,-0.6, -0.2,-0.4,-0.1,-0.5,-0.3,-0.6,-0.2,0.0,-0.4,-0.1,
               -0.3,0.0,-0.2,0.3,-0.1,0.6,0.0,-0.3,0.8,0.1, -0.2,0.2,0.0,0.4,0.2,0.5,0.3,0.6,0.2,0.4,
               0.1,0.5,0.3,0.7,0.2,0.4,1.0,0.6,0.3,1.2, 0.8,1.5,6.1,1.2,0.6,0.2,0.9,0.4,0.3,0.8]
qinghai_bsi = [0.0,-0.6,0.3,-0.8,0.5,-0.2,-0.9,0.2,0.8,-0.4, 1.9,0.6,-1.5,-0.4,0.3,-1.0,-0.2,0.4,-0.6,0.0,
               -0.3,0.5,-0.8,0.2,-0.4,0.6,0.0,-0.5,0.3,-0.2, 0.4,0.0,0.5,0.3,0.8,0.5,1.2,0.6,0.9,0.3,
               0.7,0.2,1.0,0.4,0.6,1.5,0.8,2.6,1.2,0.5, 2.5,-0.5,1.0,0.3,0.8,0.2,0.6,-0.3,0.4,0.5]

ningxia_cdc = [0.0,-0.6,0.5,-1.0,-0.3,0.4,-0.8,-0.2,0.6,-0.5, 0.2,-0.8,0.0,-0.4,0.5,-0.6,-0.2,0.3,-0.5,0.0,
               -0.3,0.4,-0.6,-0.2,0.2,-0.4,-0.5,-0.6,-0.6,-0.6, -0.5,-0.6,-0.5,-0.4,-0.6,0.2,0.8,-0.3,2.8,0.5,
               -0.2,1.2,0.4,2.0,0.0,1.5,-0.5,1.0,2.2,0.3, 1.4,0.6,1.8,-0.2,1.0,3.2,0.5,1.2,-0.3,-0.5]
ningxia_bsi = [1.0,-0.4,0.3,-1.0,0.6,-1.5,0.2,-0.8,1.2,0.4, -0.6,0.8,-0.3,0.5,-0.9,0.6,0.0,1.0,0.3,0.7,
               0.2,1.2,0.5,2.5,0.6,0.9,0.3,1.1,0.5,0.8, 0.4,1.0,0.6,1.4,2.0,3.0,0.4,-0.3,0.6,-0.5,
               0.3,-0.8,0.5,-1.2,0.0,-0.6,0.4,-1.5,-0.4,-2.5, -0.8,-0.2,-1.2,0.3,-0.6,-1.0,0.0,-0.4,-0.8,-0.5]

provinces = ['Beijing', 'Tianjin', 'Heibei', 'Shanxi', 'Inner-Mongolia', 'Liaoning',
             'Jilin', 'Heilongjiang', 'Shanghai', 'Jiangsu', 'Zhejiang', 'Anhui',
             'Fujian', 'Jiangxi', 'Shandong', 'Henan', 'Hubei', 'Hunan',
             'Guangdong', 'Guangxi', 'Hainan', 'Chongqing', 'Sichuan', 'Guizhou',
             'Yunnan', 'Tibet', 'Shaanxi', 'Gansu', 'Qinghai', 'Ningxia']
cdc_series = [beijing_cdc, tianjin_cdc, heibei_cdc, shanxi_cdc, inner_mongolia_cdc, liaoning_cdc,
              jilin_cdc, heilongjiang_cdc, shanghai_cdc, jiangsu_cdc, zhejiang_cdc, anhui_cdc,
              fujian_cdc, jiangxi_cdc, shandong_cdc, henan_cdc, hubei_cdc, hunan_cdc,
              guangdong_cdc, guangxi_cdc, hainan_cdc, chongqing_cdc, sichuan_cdc, guizhou_cdc,
              yunnan_cdc, tibet_cdc, shaanxi_cdc, gansu_cdc, qinghai_cdc, ningxia_cdc]
bsi_series = [beijing_bsi, tianjin_bsi, heibei_bsi, shanxi_bsi, inner_mongolia_bsi, liaoning_bsi,
              jilin_bsi, heilongjiang_bsi, shanghai_bsi, jiangsu_bsi, zhejiang_bsi, anhui_bsi,
              fujian_bsi, jiangxi_bsi, shandong_bsi, henan_bsi, hubei_bsi, hunan_bsi,
              guangdong_bsi, guangxi_bsi, hainan_bsi, chongqing_bsi, sichuan_bsi, guizhou_bsi,
              yunnan_bsi, tibet_bsi, shaanxi_bsi, gansu_bsi, qinghai_bsi, ningxia_bsi]

W, H = 683, 469
fig = plt.figure(figsize=(W / 100, H / 100), dpi=100)

box_col = '#7a7a7a'
for i, name in enumerate(provinces):
    r, c = divmod(i, 6)
    left = 13 + c * 113.6
    top = 10 + r * 83.8
    ax = fig.add_axes([left / W, 1 - (top + 60.5) / H, 101 / W, 60.5 / H])
    ax.plot(months, cdc_series[i], color='black', lw=0.6)
    ax.plot(months, bsi_series[i], color='red', lw=0.6)
    ax.set_xlim(-2.7, 63.3)
    ax.set_ylim(-3.35, 7.0)
    ax.set_title(name, fontsize=6, pad=1.2)
    for s in ax.spines.values():
        s.set_color(box_col)
        s.set_linewidth(0.8)
    ax.tick_params(colors='#333333', labelsize=5.8, length=2.5, width=0.5, pad=1.5)
    if c == 0:
        ax.set_yticks([-2, 0, 2, 4, 6])
        ax.set_yticklabels(['-2', '0', '2', '4', '6'], rotation=90, va='center')
    else:
        ax.set_yticks([])
    if r == 4:
        ax.set_xticks([0, 20, 40, 60])
    else:
        ax.set_xticks([])

fig.text(341 / W, 1 - 432 / H, 'Month', ha='center', va='center', fontsize=10)

# legend drawn in figure pixels
ly = 1 - 463 / H
fig.add_artist(Line2D([155 / W, 223 / W], [ly, ly], color='black', lw=1.2))
fig.text(235 / W, ly, 'Standardized CDC', va='center', fontsize=8)
fig.add_artist(Line2D([357 / W, 426 / W], [ly, ly], color='red', lw=1.2))
fig.text(437 / W, ly, 'Standardized BSI', va='center', fontsize=8)

fig.savefig('out.png', dpi=100)
